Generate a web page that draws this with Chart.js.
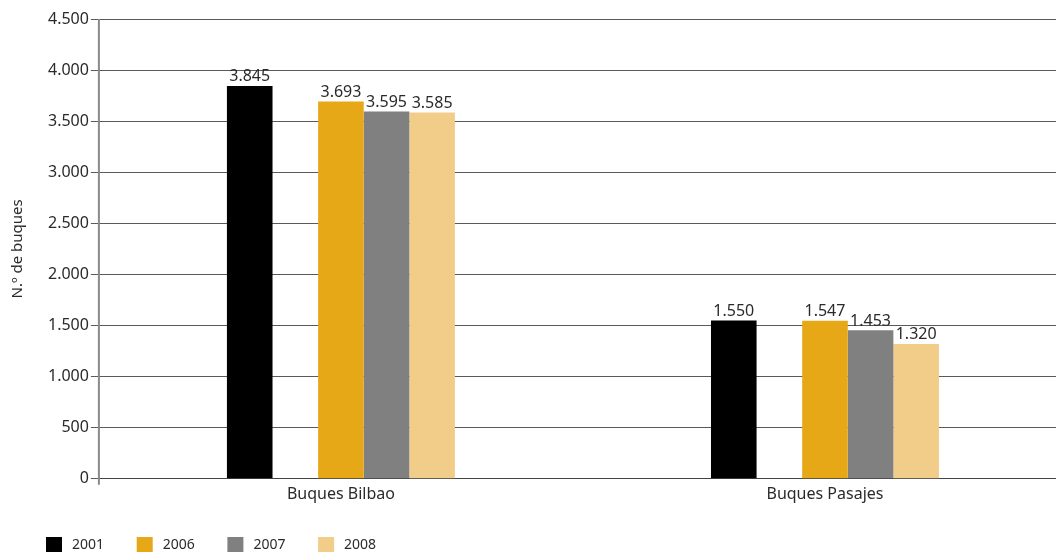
<!DOCTYPE html>
<html>
<head>
<meta charset="utf-8">
<script src="https://cdn.jsdelivr.net/npm/chart.js@4.4.0/dist/chart.umd.min.js"></script>
<style>
  html, body { margin: 0; padding: 0; background: #fff; overflow: hidden; }
  #wrap { width: 1067px; height: 555px; }
</style>
</head>
<body>
<div id="wrap"><canvas id="myChart"></canvas></div>
<script>
// data
const categories = ['Buques Bilbao', 'Buques Pasajes'];
const years = ['2001', '', '2006', '2007', '2008']; // empty slot between 2001 and 2006
const values2001 = [3845, 1550];
const values2006 = [3693, 1547];
const values2007 = [3595, 1453];
const values2008 = [3585, 1320];
const yTicks = [0, 500, 1000, 1500, 2000, 2500, 3000, 3500, 4000, 4500];

const colors = ['#000000', 'rgba(0,0,0,0)', '#e6a817', '#808080', '#f2cd8a'];
const FONT = '"Noto Sans", "Open Sans", sans-serif';

// 3845 -> "3.845"
const fmt = (v) => String(v).replace(/\B(?=(\d{3})+(?!\d))/g, '.');

const seriesValues = [values2001, [null, null], values2006, values2007, values2008];

// value labels above bars
const valueLabels = {
  id: 'valueLabels',
  afterDatasetsDraw(chart) {
    const ctx = chart.ctx;
    ctx.save();
    ctx.font = '16px ' + FONT;
    ctx.fillStyle = '#2a2a2a';
    ctx.textAlign = 'center';
    ctx.textBaseline = 'bottom';
    chart.data.datasets.forEach((ds, i) => {
      if (!ds.label) return;
      chart.getDatasetMeta(i).data.forEach((bar, j) => {
        const v = ds.data[j];
        if (v == null) return;
        ctx.fillText(fmt(v), bar.x, bar.y - 1);
      });
    });
    ctx.restore();
  }
};

// legend drawn by hand at the bottom left
const bottomLegend = {
  id: 'bottomLegend',
  afterDraw(chart) {
    const ctx = chart.ctx;
    ctx.save();
    ctx.font = '14px ' + FONT;
    ctx.textBaseline = 'middle';
    let k = 0;
    chart.data.datasets.forEach((ds) => {
      if (!ds.label) return;
      const x = 46 + k * 90.7;
      ctx.fillStyle = ds.backgroundColor;
      ctx.fillRect(x, 537, 16, 15);
      ctx.fillStyle = '#2a2a2a';
      ctx.fillText(ds.label, x + 26, 545);
      k++;
    });
    ctx.restore();
  }
};

// y axis line that runs a little below zero
const axisLine = {
  id: 'axisLine',
  afterDraw(chart) {
    const ctx = chart.ctx;
    const a = chart.chartArea;
    ctx.save();
    ctx.strokeStyle = '#8a8a8a';
    ctx.lineWidth = 2;
    ctx.beginPath();
    ctx.moveTo(a.left, a.top);
    ctx.lineTo(a.left, a.bottom + 6);
    ctx.stroke();
    ctx.restore();
  }
};

const ctx = document.getElementById('myChart').getContext('2d');
new Chart(ctx, {
  type: 'bar',
  data: {
    labels: categories,
    datasets: years.map((y, i) => ({
      label: y,
      data: seriesValues[i],
      backgroundColor: colors[i],
      borderWidth: 0
    }))
  },
  options: {
    responsive: true,
    maintainAspectRatio: false,
    animation: false,
    layout: { padding: { left: 9, top: 19, right: 0, bottom: 45 } },
    datasets: { bar: { categoryPercentage: 0.471, barPercentage: 1 } },
    scales: {
      x: {
        grid: { display: false, drawTicks: false },
        border: { display: true, color: '#444', width: 1 },
        ticks: { color: '#2a2a2a', font: { size: 16, family: FONT }, padding: 6 }
      },
      y: {
        min: 0,
        max: 4500,
        afterBuildTicks: (axis) => { axis.ticks = yTicks.map(v => ({ value: v })); },
        grid: { color: '#5a5a5a', lineWidth: 1, tickLength: 8, tickColor: '#5a5a5a' },
        border: { display: false },
        ticks: {
          color: '#2a2a2a',
          font: { size: 16, family: FONT },
          padding: 2,
          callback: (v) => fmt(v)
        },
        title: {
          display: true,
          text: 'N.º de buques',
          color: '#2a2a2a',
          font: { size: 15, family: FONT },
          padding: { top: 0, bottom: 19 }
        }
      }
    },
    plugins: {
      legend: { display: false },
      tooltip: { enabled: false }
    }
  },
  plugins: [valueLabels, bottomLegend, axisLine]
});
</script>
</body>
</html>
